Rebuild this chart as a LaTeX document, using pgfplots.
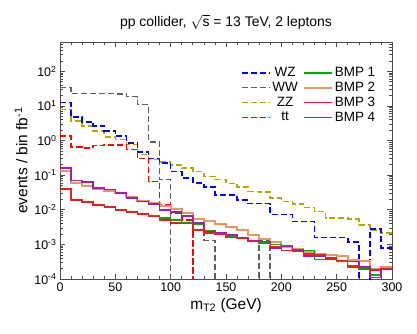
\documentclass[border=0pt]{standalone}
\usepackage{fontspec}
\setmainfont{Liberation Sans}
\usepackage{pgfplots}
\usepackage{pgfplotstable}
\pgfplotsset{compat=1.18}

\definecolor{colWZ}{RGB}{0,0,255}
\definecolor{colWW}{RGB}{95,95,95}
\definecolor{colZZ}{RGB}{175,170,0}
\definecolor{colTT}{RGB}{255,0,0}
\definecolor{colBa}{RGB}{0,170,0}
\definecolor{colBb}{RGB}{232,150,100}
\definecolor{colBc}{RGB}{235,30,30}
\definecolor{colBd}{RGB}{165,30,165}

% 10 GeV bins, left edge; last row closes the histogram
\pgfplotstableread{
x   WZ      WW     ZZ      tt     B1       B2       B3       B4
0   12.4    33.7   7.9     1.33   0.041    0.129    0.040    0.16
10  4.8     23     3.62    0.66   0.0195   0.059    0.019    0.070
20  3.4     23     2.6     0.61   0.0174   0.049    0.017    0.063
30  2.6     23     1.86    0.72   0.014    0.041    0.0135   0.0425
40  1.9     23     1.28    0.75   0.0126   0.034    0.012    0.038
50  1.33    22     1.07    0.75   0.010    0.030    0.0098   0.030
60  0.85    18.5   0.77    0.55   0.0089   0.024    0.0087   0.0218
70  0.47    11     0.39    0.30   0.0077   0.018    0.0075   0.0174
80  0.30    0.92   0.28    0.065  0.0067   0.0156   0.0064   0.0149
90  0.226   0.074  0.235   0.014  0.0057   0.0131   0.0051   0.010
100 0.129   1e-6   0.20    0.008  0.0051   0.0105   0.0042   0.0085
110 0.083   1e-6   0.16    0.005  0.0043   0.0083   0.0040   0.0065
120 0.059   0.0025 0.129   1e-6   0.0037   0.0054   0.0026   0.0042
130 0.045   0.0013 0.092   1e-6   0.0024   0.0047   0.0021   0.00235
140 0.027   1e-6   0.074   1e-6   0.0021   0.0040   0.0019   0.0021
150 0.027   1e-6   0.057   1e-6   0.0017   0.0032   0.0016   0.00185
160 0.0195  1e-6   0.045   1e-6   0.00157  0.0026   0.0015   0.00157
170 0.015   1e-6   0.034   1e-6   0.0013   0.0019   0.0012   0.00129
180 0.015   0.0013 0.032   1e-6   0.0011   0.0014   0.00105  0.0012
190 0.0072  1e-6   0.0218  1e-6   0.001    0.00116  0.00086  0.00078
200 0.0072  1e-6   0.0174  1e-6   0.00089  0.00086  0.00066  0.00086
210 0.0046  1e-6   0.0149  1e-6   0.00072  0.00072  0.00062  0.00069
220 0.0046  1e-6   0.0117  1e-6   0.00066  0.00062  0.00053  0.00046
230 0.0016  1e-6   0.0089  1e-6   0.00036  0.00053  0.0005   0.00044
240 0.0016  1e-6   0.0057  1e-6   0.00036  0.0005   0.0004   0.00036
250 0.0016  1e-6   0.0057  1e-6   0.00032  0.00047  0.00034  0.00034
260 0.00116 1e-6   0.0054  1e-6   0.00024  0.00036  0.00022  0.00032
270 1e-6    1e-6   0.0037  1e-6   0.0002   0.00033  0.00019  0.00022
280 0.0028  1e-6   0.0026  1e-6   0.00013  0.00019  0.00018  0.00011
290 0.00078 1e-6   0.0021  1e-6   0.0002   0.00022  0.0002   0.00019
300 0.00078 1e-6   0.0021  1e-6   0.0002   0.00022  0.0002   0.00019
}\mt

\pgfplotsset{
  sWZ/.style={color=colWZ, dash pattern=on 6bp off 3bp, line width=1.6bp},
  sWW/.style={color=colWW, dash pattern=on 6bp off 3bp, line width=1.6bp},
  sZZ/.style={color=colZZ, dash pattern=on 6bp off 3bp, line width=1.6bp},
  sTT/.style={color=colTT, dash pattern=on 6bp off 3bp, line width=1.6bp},
  sBa/.style={color=colBa, solid, line width=1.5bp},
  sBb/.style={color=colBb, solid, line width=2bp},
  sBc/.style={color=colBc, solid, line width=1.5bp},
  sBd/.style={color=colBd, solid, line width=1.5bp},
}

\begin{document}
\begin{tikzpicture}
\path[use as bounding box] (-60bp,-55bp) rectangle (357bp,279bp);
\begin{axis}[
    width=332bp, height=237bp, scale only axis,
    xmin=0, xmax=300,
    ymode=log, log basis y=10,
    ymin=1e-4, ymax=700,
    xtick={0,50,...,300}, minor x tick num=4,
    xticklabel style={/pgf/number format/assume math mode=true},
    yticklabel={10\textsuperscript{\pgfmathparse{int(round(\tick))}\pgfmathresult}},
    ticklabel style={font=\fontsize{12.5}{14}\selectfont},
    major tick length=5bp, minor tick length=3bp,
    axis line style={line width=0.8bp, black!70},
    every tick/.style={black!70, line width=0.6bp},
    title={pp collider, \(\sqrt{\mbox{s}}\) = 13 TeV, 2 leptons},
    title style={font=\fontsize{14}{16}\selectfont, at={(0.5,1)}, anchor=south, yshift=3bp},
    xlabel={m\textsubscript{T2} (GeV)},
    ylabel={events / bin fb\textsuperscript{-1}},
    label style={font=\fontsize{15.5}{18}\selectfont},
    legend columns=2,
    legend style={draw=none, fill=none, at={(0.965,0.91)}, anchor=north east,
      font=\fontsize{13.5}{16}\selectfont, row sep=0bp,
      /tikz/every even column/.append style={column sep=3bp}},
    legend image code/.code={\draw[#1] (0bp,0bp) -- (28bp,0bp);},
  ]
  \addplot[const plot, sWW, forget plot] table[x=x, y=WW] {\mt};
  \addplot[const plot, sZZ, forget plot] table[x=x, y=ZZ] {\mt};
  \addplot[const plot, sWZ, forget plot] table[x=x, y=WZ] {\mt};
  \addplot[const plot, sTT, forget plot] table[x=x, y=tt] {\mt};
  \addplot[const plot, sBb, forget plot] table[x=x, y=B2] {\mt};
  \addplot[const plot, sBa, forget plot] table[x=x, y=B1] {\mt};
  \addplot[const plot, sBd, forget plot] table[x=x, y=B4] {\mt};
  \addplot[const plot, sBc, forget plot] table[x=x, y=B3] {\mt};

  \addlegendimage{sWZ}\addlegendentry{WZ}
  \addlegendimage{sBa}\addlegendentry{BMP 1}
  \addlegendimage{sWW}\addlegendentry{WW}
  \addlegendimage{sBb}\addlegendentry{BMP 2}
  \addlegendimage{sZZ}\addlegendentry{ZZ}
  \addlegendimage{sBc}\addlegendentry{BMP 3}
  \addlegendimage{sTT}\addlegendentry{tt}
  \addlegendimage{sBd}\addlegendentry{BMP 4}
\end{axis}
\end{tikzpicture}
\end{document}
